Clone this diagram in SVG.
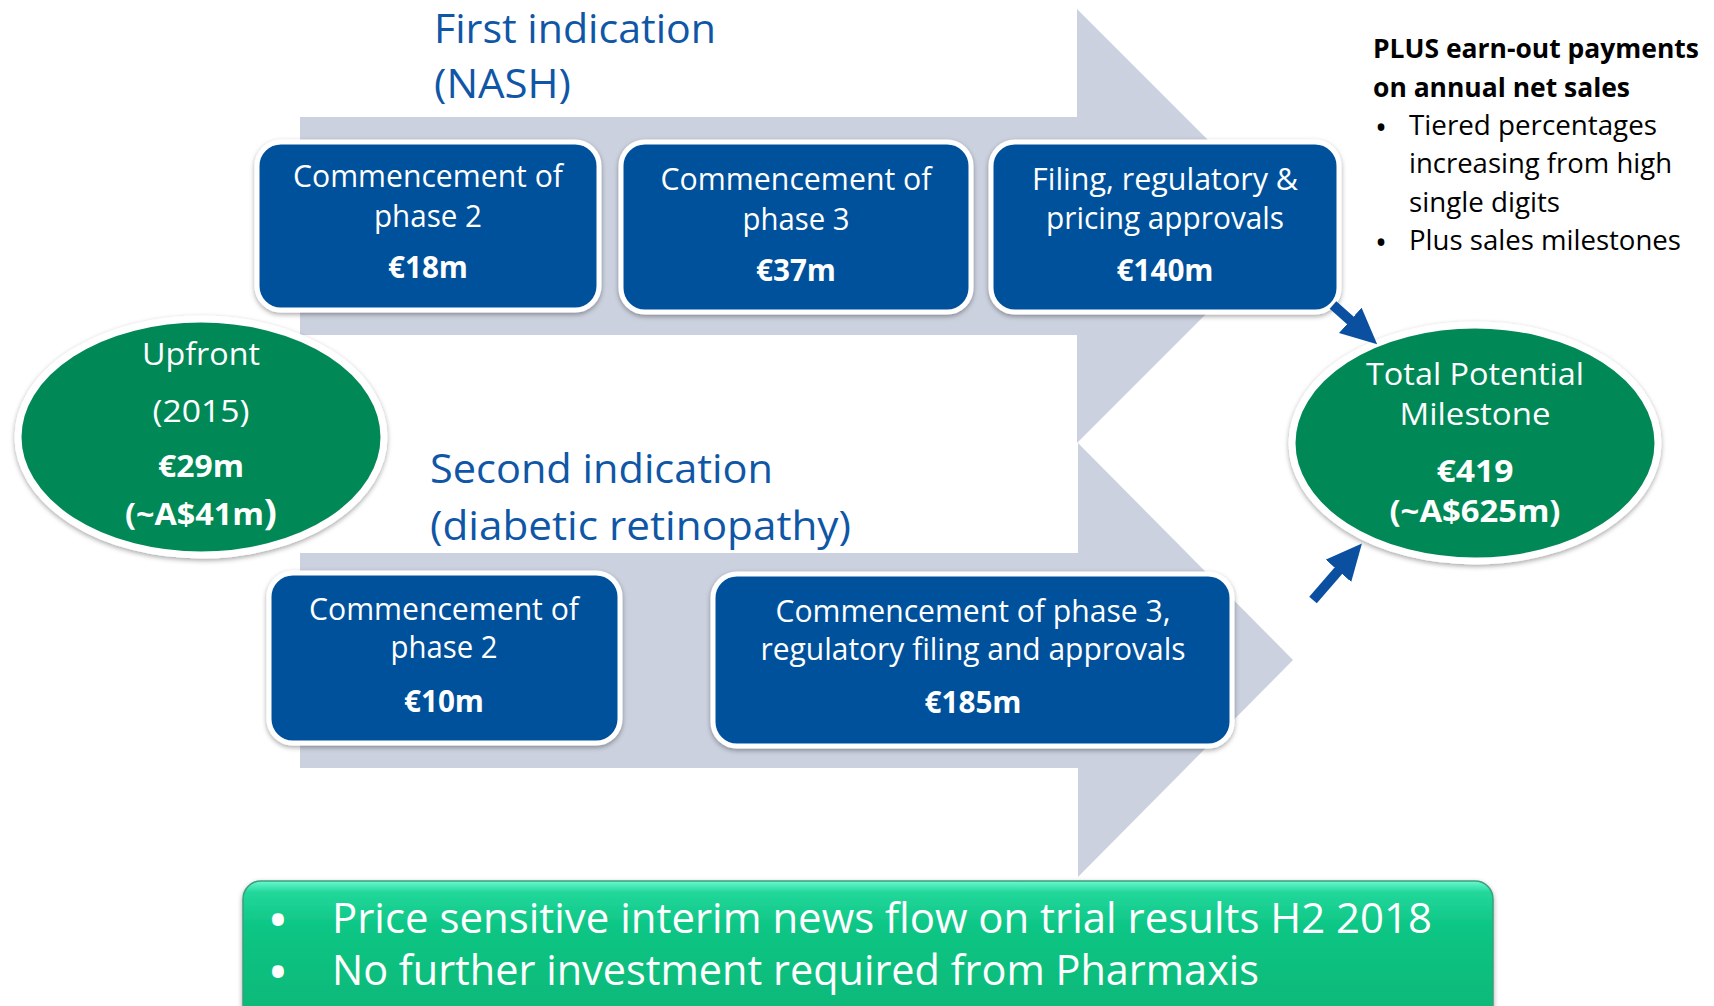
<svg xmlns="http://www.w3.org/2000/svg" width="1714" height="1006" viewBox="0 0 1714 1006">
<defs>
<filter id="sh" x="-10%" y="-10%" width="120%" height="130%">
<feDropShadow dx="0" dy="2" stdDeviation="2.5" flood-color="#000" flood-opacity="0.35"/>
</filter>
<linearGradient id="gb" x1="0" y1="0" x2="0" y2="1">
<stop offset="0" stop-color="#6af8d0"/>
<stop offset="0.07" stop-color="#22d79a"/>
<stop offset="0.3" stop-color="#0cc584"/>
<stop offset="1" stop-color="#05b474"/>
</linearGradient>
<marker id="ah" markerUnits="userSpaceOnUse" markerWidth="36" markerHeight="34" viewBox="0 0 36 34" refX="1" refY="17" orient="auto">
<path d="M0,0 L36,17 L0,34 Z" fill="#0b50a0"/>
</marker>
<style>
text{font-family:"Open Sans","Liberation Sans",sans-serif;}
.box{fill:#02519c;stroke:#fff;stroke-width:5;filter:url(#sh);}
.ell{fill:#068957;stroke:#fff;stroke-width:7;filter:url(#sh);}
.bt{fill:#fff;font-size:30.5px;text-anchor:middle;}
.bv{fill:#fff;font-size:30px;font-weight:700;text-anchor:middle;}
.ttl{fill:#0f57a6;font-size:41px;}
.rt{fill:#000;font-size:27px;}
.rb{fill:#000;font-size:27px;font-weight:700;}
.rbul{fill:#000;font-size:32px;text-anchor:middle;}
.gt{fill:#fff;font-size:42px;}
.gbul{fill:#fff;font-size:42px;font-weight:700;text-anchor:middle;}
.arr{fill:#cbd1de;}
.con{stroke:#0b50a0;stroke-width:10;fill:none;marker-end:url(#ah);}
</style>
</defs>
<rect width="1714" height="1006" fill="#fff"/>

<g id="bg-arrows">
<polygon class="arr" points="300,117 1077,117 1077,9 1294,226 1077,443 1077,335 300,335"/>
<polygon class="arr" points="300,553 1078,553 1078,443 1293,660 1078,877 1078,768 300,768"/>
</g>

<g id="title-first">
<text class="ttl" x="434" y="43" textLength="282" lengthAdjust="spacingAndGlyphs">First indication</text>
<text class="ttl" x="434" y="98" textLength="137" lengthAdjust="spacingAndGlyphs">(NASH)</text>
</g>
<g id="title-second">
<text class="ttl" x="430" y="483" textLength="343" lengthAdjust="spacingAndGlyphs">Second indication</text>
<text class="ttl" x="430" y="540" textLength="421" lengthAdjust="spacingAndGlyphs">(diabetic retinopathy)</text>
</g>

<g id="nash-phase2">
<rect class="box" x="257" y="142" width="342" height="168" rx="24"/>
<text class="bt" x="428" y="187" textLength="270" lengthAdjust="spacingAndGlyphs">Commencement of</text>
<text class="bt" x="428" y="227" textLength="108" lengthAdjust="spacingAndGlyphs">phase 2</text>
<text class="bv" x="428" y="278" textLength="80" lengthAdjust="spacingAndGlyphs">€18m</text>
</g>
<g id="nash-phase3">
<rect class="box" x="621" y="142" width="350" height="170" rx="24"/>
<text class="bt" x="796" y="190" textLength="271" lengthAdjust="spacingAndGlyphs">Commencement of</text>
<text class="bt" x="796" y="230" textLength="107" lengthAdjust="spacingAndGlyphs">phase 3</text>
<text class="bv" x="796" y="281" textLength="80" lengthAdjust="spacingAndGlyphs">€37m</text>
</g>
<g id="nash-approvals">
<rect class="box" x="991" y="142" width="348" height="170" rx="24"/>
<text class="bt" x="1165" y="190" textLength="266" lengthAdjust="spacingAndGlyphs">Filing, regulatory &amp;</text>
<text class="bt" x="1165" y="229" textLength="238" lengthAdjust="spacingAndGlyphs">pricing approvals</text>
<text class="bv" x="1165" y="281" textLength="97" lengthAdjust="spacingAndGlyphs">€140m</text>
</g>

<g id="dr-phase2">
<rect class="box" x="269" y="573" width="351" height="170" rx="24"/>
<text class="bt" x="444" y="620" textLength="270" lengthAdjust="spacingAndGlyphs">Commencement of</text>
<text class="bt" x="444" y="658" textLength="107" lengthAdjust="spacingAndGlyphs">phase 2</text>
<text class="bv" x="444" y="712" textLength="80" lengthAdjust="spacingAndGlyphs">€10m</text>
</g>
<g id="dr-phase3">
<rect class="box" x="713" y="574" width="519" height="172" rx="24"/>
<text class="bt" x="973" y="622" textLength="395" lengthAdjust="spacingAndGlyphs">Commencement of phase 3,</text>
<text class="bt" x="973" y="660" textLength="425" lengthAdjust="spacingAndGlyphs">regulatory filing and approvals</text>
<text class="bv" x="973" y="713" textLength="97" lengthAdjust="spacingAndGlyphs">€185m</text>
</g>

<g id="upfront">
<ellipse class="ell" cx="201" cy="437" rx="183" ry="118"/>
<text class="bt" x="201" y="365" textLength="118" lengthAdjust="spacingAndGlyphs">Upfront</text>
<text class="bt" x="201" y="422" textLength="97" lengthAdjust="spacingAndGlyphs">(2015)</text>
<text class="bv" x="201" y="477" textLength="86" lengthAdjust="spacingAndGlyphs">€29m</text>
<text class="bv" x="201" y="525" textLength="152" lengthAdjust="spacingAndGlyphs">(~A$41m<tspan font-size="36">)</tspan></text>
</g>

<g id="total">
<ellipse class="ell" cx="1475" cy="443" rx="183" ry="118"/>
<text class="bt" x="1475" y="385" font-size="32" textLength="218" lengthAdjust="spacingAndGlyphs">Total Potential</text>
<text class="bt" x="1475" y="425" font-size="32" textLength="151" lengthAdjust="spacingAndGlyphs">Milestone</text>
<text class="bv" x="1475" y="482" textLength="77" lengthAdjust="spacingAndGlyphs">€419</text>
<text class="bv" x="1475" y="522" textLength="171" lengthAdjust="spacingAndGlyphs">(~A$625m)</text>
</g>

<g id="earnout">
<text class="rb" x="1373" y="58" textLength="326" lengthAdjust="spacingAndGlyphs">PLUS earn-out payments</text>
<text class="rb" x="1373" y="97" textLength="257" lengthAdjust="spacingAndGlyphs">on annual net sales</text>
<text class="rbul" x="1381" y="139">•</text>
<text class="rt" x="1409" y="135" textLength="248" lengthAdjust="spacingAndGlyphs">Tiered percentages</text>
<text class="rt" x="1409" y="173" textLength="263" lengthAdjust="spacingAndGlyphs">increasing from high</text>
<text class="rt" x="1409" y="212" textLength="151" lengthAdjust="spacingAndGlyphs">single digits</text>
<text class="rbul" x="1381" y="254">•</text>
<text class="rt" x="1409" y="250" textLength="272" lengthAdjust="spacingAndGlyphs">Plus sales milestones</text>
</g>

<g id="newsflow">
<rect x="243" y="881" width="1250" height="160" rx="18" fill="url(#gb)" stroke="#3b9f7c" stroke-width="1.5" filter="url(#sh)"/>
<text class="gbul" x="278" y="935">•</text>
<text class="gt" x="332" y="933" textLength="1100" lengthAdjust="spacingAndGlyphs">Price sensitive interim news flow on trial results H2 2018</text>
<text class="gbul" x="278" y="987">•</text>
<text class="gt" x="332" y="985" textLength="927" lengthAdjust="spacingAndGlyphs">No further investment required from Pharmaxis</text>
</g>

<g id="connectors">
<line class="con" x1="1333" y1="305" x2="1351" y2="321"/>
<line class="con" x1="1313" y1="600" x2="1339" y2="570"/>
</g>
</svg>
